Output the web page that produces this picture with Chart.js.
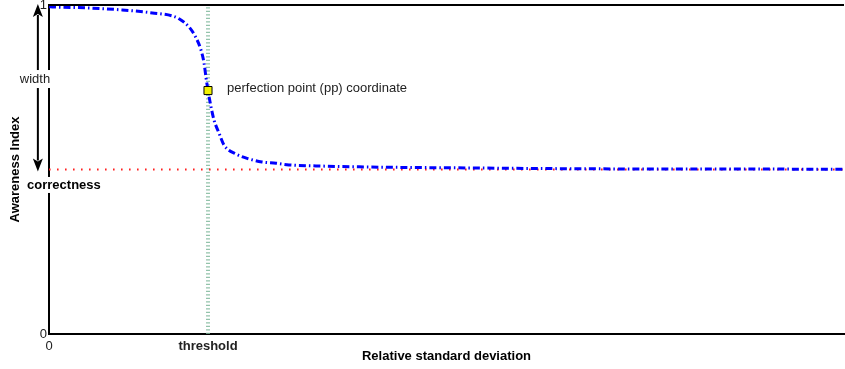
<!DOCTYPE html>
<html>
<head>
<meta charset="utf-8">
<script src="https://cdn.jsdelivr.net/npm/chart.js@4/dist/chart.umd.min.js"></script>
<style>
  html, body { margin: 0; padding: 0; background: #fff; }
  canvas { display: block; }
</style>
</head>
<body>
<canvas id="c" width="845" height="369"></canvas>
<script>
// Awareness index as a function of the relative standard deviation
const curveX = [0, 0.03, 0.25, 0.46, 0.65, 0.774, 0.818, 0.881, 0.925, 0.956, 0.975, 0.987, 1.0,
                1.019, 1.038, 1.069, 1.101, 1.176, 1.258, 1.34, 1.428, 1.509, 1.679, 1.95, 2.56, 3.46, 5.0];
const curveY = [0.995, 0.994, 0.991, 0.985, 0.976, 0.967, 0.958, 0.933, 0.900, 0.863, 0.824, 0.781, 0.740,
                0.690, 0.650, 0.611, 0.574, 0.547, 0.532, 0.523, 0.519, 0.514, 0.511, 0.508, 0.505, 0.502, 0.501];

// Reference levels
const threshold = 1;
const correctness = 0.5;
const ppCoordinate = [1, 0.74];
const xRange = [0, 5];
const yRange = [0, 1];

// Tick values and their labels
const xTickValues = [0, 1];
const xTickLabels = ['0', 'threshold'];
const yTickValues = [0, 1];
const yTickLabels = ['0', '1'];

const FONT = "'Liberation Sans', Arial, Helvetica, sans-serif";

const curveData = curveX.map((x, i) => ({ x, y: curveY[i] }));

const annotations = {
  id: 'annotations',
  afterDatasetsDraw(chart) {
    const { ctx, chartArea, scales: { x: xs, y: ys } } = chart;
    ctx.save();

    // top frame line
    ctx.strokeStyle = '#000';
    ctx.lineWidth = 2;
    ctx.beginPath();
    ctx.moveTo(chartArea.left - 1, ys.getPixelForValue(yRange[1]));
    ctx.lineTo(chartArea.right, ys.getPixelForValue(yRange[1]));
    ctx.stroke();

    // double-headed "width" arrow between correctness and 1
    const ax = xs.getPixelForValue(-0.07);
    const aTop = ys.getPixelForValue(1) - 1;
    const aBot = ys.getPixelForValue(correctness) + 2;
    const headLen = 13, headHalf = 5;
    ctx.lineWidth = 2;
    ctx.beginPath();
    ctx.moveTo(ax, aTop + headLen - 2);
    ctx.lineTo(ax, aBot - headLen + 2);
    ctx.stroke();
    ctx.fillStyle = '#000';
    ctx.beginPath();
    ctx.moveTo(ax, aTop);
    ctx.lineTo(ax + headHalf, aTop + headLen);
    ctx.lineTo(ax, aTop + headLen - 3);
    ctx.lineTo(ax - headHalf, aTop + headLen);
    ctx.closePath();
    ctx.fill();
    ctx.beginPath();
    ctx.moveTo(ax, aBot);
    ctx.lineTo(ax + headHalf, aBot - headLen);
    ctx.lineTo(ax, aBot - headLen + 3);
    ctx.lineTo(ax - headHalf, aBot - headLen);
    ctx.closePath();
    ctx.fill();

    // "width" label on a white box over the arrow
    ctx.font = '13px ' + FONT;
    ctx.textBaseline = 'middle';
    ctx.textAlign = 'center';
    const wx = xs.getPixelForValue(-0.088);
    const wy = ys.getPixelForValue(0.775);
    const ww = ctx.measureText('width').width;
    ctx.fillStyle = '#fff';
    ctx.fillRect(wx - ww / 2 - 1, wy - 9, ww + 2, 18);
    ctx.fillStyle = '#222';
    ctx.fillText('width', wx, wy);

    // "correctness" label
    ctx.font = 'bold 13px ' + FONT;
    ctx.textAlign = 'left';
    const cx = xs.getPixelForValue(-0.138);
    const cy = ys.getPixelForValue(0.453);
    const cw = ctx.measureText('correctness').width;
    ctx.fillStyle = '#fff';
    ctx.fillRect(cx - 1, cy - 8, cw + 2, 16);
    ctx.fillStyle = '#000';
    ctx.fillText('correctness', cx, cy);

    // perfection point label
    ctx.font = '13px ' + FONT;
    ctx.fillStyle = '#222';
    ctx.fillText('perfection point (pp) coordinate',
      xs.getPixelForValue(ppCoordinate[0] + 0.12), ys.getPixelForValue(ppCoordinate[1]) - 2);

    ctx.restore();
  }
};

new Chart(document.getElementById('c'), {
  type: 'scatter',
  data: {
    datasets: [
      {
        label: 'pp',
        data: [{ x: ppCoordinate[0], y: ppCoordinate[1] }],
        pointStyle: 'rect',
        pointRadius: 5.7,
        pointBackgroundColor: '#f2f200',
        pointBorderColor: '#000',
        pointBorderWidth: 1,
        order: 0,
        clip: false
      },
      {
        label: 'awareness',
        data: curveData,
        showLine: true,
        borderColor: '#0000ff',
        borderWidth: 3,
        borderDash: [7, 3, 1.5, 3],
        cubicInterpolationMode: 'monotone',
        pointRadius: 0,
        order: 1,
        clip: false
      },
      {
        label: 'correctness',
        data: [{ x: xRange[0], y: correctness }, { x: xRange[1], y: correctness }],
        showLine: true,
        borderColor: '#ff2020',
        borderWidth: 2,
        borderDash: [1.6, 6.4],
        pointRadius: 0,
        order: 2,
        clip: false
      },
      {
        label: 'threshold',
        data: [{ x: threshold, y: yRange[0] }, { x: threshold, y: yRange[1] }],
        showLine: true,
        borderColor: 'rgba(120,180,150,0.8)',
        borderWidth: 4,
        borderDash: [1.2, 2.3],
        pointRadius: 0,
        order: 3,
        clip: false
      }
    ]
  },
  options: {
    responsive: false,
    animation: false,
    devicePixelRatio: 1,
    layout: { autoPadding: false, padding: { top: 5, right: 1, bottom: 0, left: 0 } },
    plugins: { legend: { display: false }, tooltip: { enabled: false } },
    scales: {
      x: {
        type: 'linear',
        min: xRange[0],
        max: xRange[1],
        afterBuildTicks: s => { s.ticks = xTickValues.map(v => ({ value: v })); },
        afterFit: s => { s.height = 35; s.paddingLeft = 0; s.paddingRight = 0; },
        grid: { display: false, drawTicks: false },
        border: { display: true, color: '#000', width: 2 },
        ticks: {
          padding: 5,
          color: '#222',
          maxRotation: 0,
          autoSkip: false,
          font: ctx => ({ family: FONT, size: 13, weight: ctx.tick && ctx.tick.value === 1 ? 'bold' : 'normal' }),
          callback: v => xTickLabels[xTickValues.indexOf(v)]
        },
        title: {
          display: true,
          text: 'Relative standard deviation',
          color: '#000',
          font: { family: FONT, size: 13, weight: 'bold' },
          padding: { top: 0, bottom: 5 }
        }
      },
      y: {
        type: 'linear',
        min: yRange[0],
        max: yRange[1],
        afterBuildTicks: s => { s.ticks = yTickValues.map(v => ({ value: v })); },
        afterFit: s => { s.width = 49; s.paddingTop = 0; s.paddingBottom = 0; },
        grid: { display: false, drawTicks: false },
        border: { display: true, color: '#000', width: 2 },
        ticks: {
          padding: 2,
          color: '#222',
          font: { family: FONT, size: 13 },
          callback: v => yTickLabels[yTickValues.indexOf(v)]
        },
        title: {
          display: true,
          text: 'Awareness Index',
          color: '#000',
          font: { family: FONT, size: 13, weight: 'bold' },
          padding: { top: 8, bottom: 0 }
        }
      }
    }
  },
  plugins: [annotations]
});
</script>
</body>
</html>
